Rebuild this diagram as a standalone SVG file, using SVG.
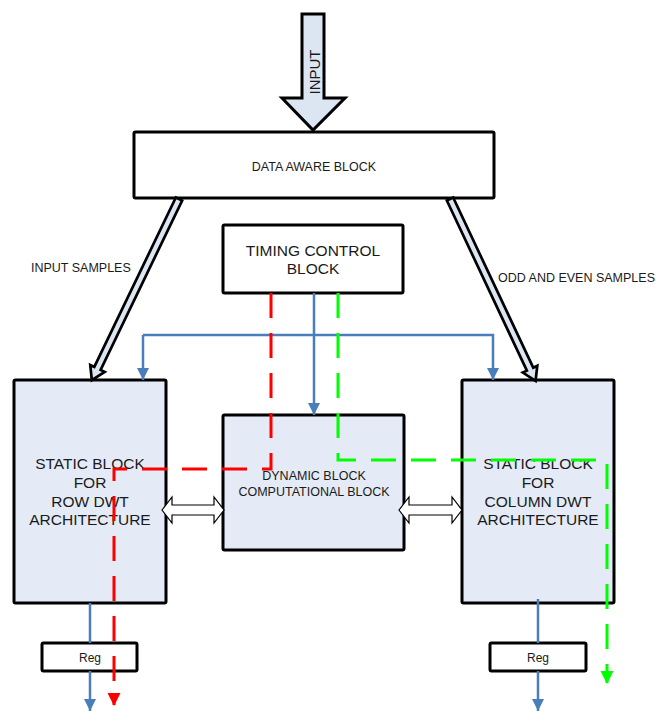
<svg xmlns="http://www.w3.org/2000/svg" width="656" height="711" viewBox="0 0 656 711">
<style>
.blk{stroke:#000;stroke-width:3;}
.w{fill:#fff;}
.lb{fill:#e4ebf6;}
.t{font-family:"Liberation Sans",Arial,sans-serif;fill:#1a1a1a;text-anchor:middle;}
.s125{font-size:12.5px;}
.s155{font-size:15.5px;}
.blue{fill:none;stroke:#4a7ebb;stroke-width:2.5;}
.red{fill:none;stroke:#ff0000;stroke-width:3;stroke-dasharray:25 15;}
.green{fill:none;stroke:#00ff00;stroke-width:3;stroke-dasharray:25 15;}
.fat{fill:#dce6f2;stroke:#000;stroke-width:2.7;stroke-linejoin:miter;}
.bi{fill:#fff;stroke:#000;stroke-width:1.2;}
</style>
<defs>
<marker id="ab" markerUnits="userSpaceOnUse" markerWidth="14" markerHeight="14" refX="12" refY="6" orient="auto"><path d="M0,0 L12,6 L0,12 z" fill="#4a7ebb"/></marker>
<marker id="ar" markerUnits="userSpaceOnUse" markerWidth="14" markerHeight="14" refX="12" refY="6.5" orient="auto"><path d="M0,0 L13,6.5 L0,13 z" fill="#ff0000"/></marker>
<marker id="ag" markerUnits="userSpaceOnUse" markerWidth="14" markerHeight="14" refX="12" refY="6.5" orient="auto"><path d="M0,0 L13,6.5 L0,13 z" fill="#00ff00"/></marker>
</defs>

<g id="input-arrow">
<polygon class="fat" style="stroke-width:3" points="302,14 324,14 324,98 345,98 313,130 282,98 302,98"/>
<text class="t" style="font-size:15px" transform="translate(319.5,72) rotate(-90)">INPUT</text>
</g>

<g id="data-aware">
<rect class="blk w" x="134" y="132" width="360" height="66" rx="1.5"/>
<text class="t s125" x="314" y="170.5">DATA AWARE BLOCK</text>
</g>

<g id="timing">
<rect class="blk w" x="223" y="225" width="180" height="68" rx="1.5"/>
<text class="t s155" x="313" y="255.5">TIMING CONTROL</text>
<text class="t s155" x="313" y="274">BLOCK</text>
</g>

<g id="static-row">
<rect class="blk lb" x="14" y="380" width="152" height="223" rx="1.5"/>
<text class="t s155" x="90" y="468.5">STATIC BLOCK</text>
<text class="t s155" x="90" y="487.5">FOR</text>
<text class="t s155" x="90" y="506.5">ROW DWT</text>
<text class="t s155" x="90" y="525">ARCHITECTURE</text>
</g>

<g id="dynamic">
<rect class="blk lb" x="223" y="415" width="181" height="135" rx="1.5"/>
<text class="t s125" x="314" y="480">DYNAMIC BLOCK</text>
<text class="t s125" x="314" y="495.5">COMPUTATIONAL BLOCK</text>
</g>

<g id="static-col">
<rect class="blk lb" x="462" y="380" width="152" height="223" rx="1.5"/>
<text class="t s155" x="538" y="468.5">STATIC BLOCK</text>
<text class="t s155" x="538" y="487.5">FOR</text>
<text class="t s155" x="538" y="506.5">COLUMN DWT</text>
<text class="t s155" x="538" y="525">ARCHITECTURE</text>
</g>

<g id="reg-left">
<rect class="blk w" x="42" y="643" width="95" height="28" rx="1.5"/>
<text class="t" style="font-size:12px" x="90" y="661.5">Reg</text>
</g>

<g id="reg-right">
<rect class="blk w" x="490" y="643" width="96" height="28" rx="1.5"/>
<text class="t" style="font-size:12px" x="538" y="661.5">Reg</text>
</g>

<g id="labels">
<text class="t s125" style="text-anchor:start" x="31" y="271.5">INPUT SAMPLES</text>
<text class="t s125" style="text-anchor:start" x="498" y="281.5">ODD AND EVEN SAMPLES</text>
</g>

<g id="connectors">
<polygon class="fat" transform="translate(179,199) rotate(25.7)" points="-3.5,0 3.5,0 3.5,188 8,188 0,201 -8,188 -3.5,188"/>
<polygon class="fat" transform="translate(450,199) rotate(-25.2)" points="-3.5,0 3.5,0 3.5,188 8,188 0,201 -8,188 -3.5,188"/>
<polygon class="bi" points="162,510 172,497 172,505 214,505 214,497 224,510 214,523 214,515 172,515 172,523"/>
<polygon class="bi" points="399,510 409,497 409,505 452,505 452,497 462,510 452,523 452,515 409,515 409,523"/>
<path class="blue" d="M314,293 V415" marker-end="url(#ab)"/>
<path class="blue" d="M143,335 H493 V380" marker-end="url(#ab)"/>
<path class="blue" d="M143,335 V380" marker-end="url(#ab)"/>
<path class="blue" d="M90,603 V643"/>
<path class="blue" d="M90,671 V711" marker-end="url(#ab)"/>
<path class="blue" d="M538,599 V643"/>
<path class="blue" d="M538,671 V711" marker-end="url(#ab)"/>
<path class="red" d="M271,293 V469 H114 V705" marker-end="url(#ar)"/>
<path class="green" d="M338,293 V460 H607 V683" marker-end="url(#ag)"/>
</g>
</svg>
